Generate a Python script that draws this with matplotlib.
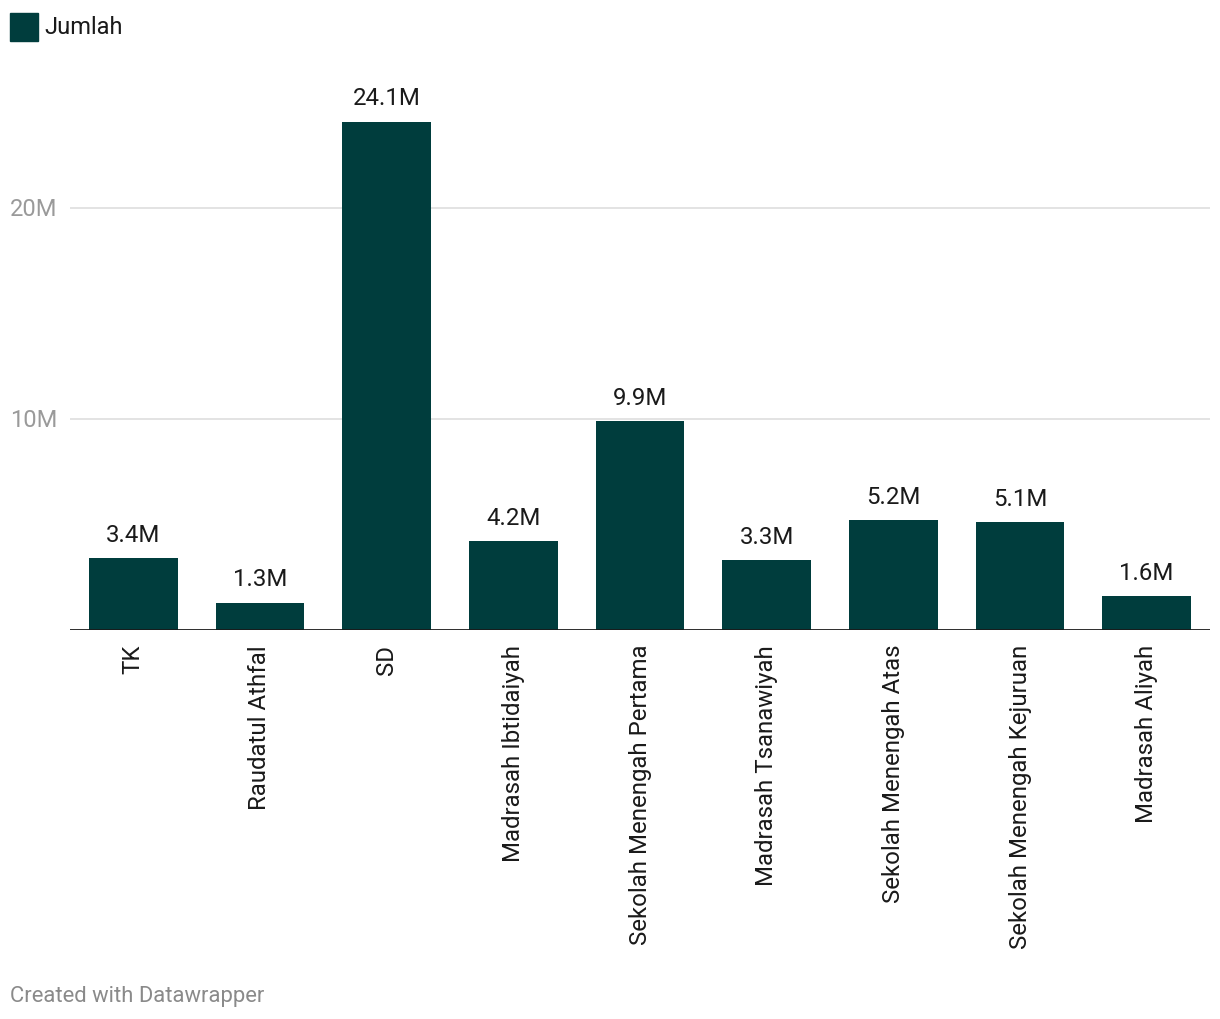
import matplotlib
matplotlib.use("Agg")
from matplotlib import pyplot as plt
from matplotlib.patches import Rectangle

plt.rcParams['font.family'] = ['Roboto', 'DejaVu Sans']

kategori = ["TK", "Raudatul Athfal", "SD", "Madrasah Ibtidaiyah",
            "Sekolah Menengah Pertama", "Madrasah Tsanawiyah",
            "Sekolah Menengah Atas", "Sekolah Menengah Kejuruan", "Madrasah Aliyah"]
jumlah = [3.4, 1.3, 24.1, 4.2, 9.9, 3.3, 5.2, 5.1, 1.6]  # juta
label_nilai = ["3.4M", "1.3M", "24.1M", "4.2M", "9.9M", "3.3M", "5.2M", "5.1M", "1.6M"]
yticks = [10, 20]
ytick_labels = ["10M", "20M"]

warna = "#003d3d"

fig = plt.figure(figsize=(12.2, 10.2), dpi=100)
ax = fig.add_axes([70 / 1220, 1 - 631 / 1020, 1140 / 1220, (631 - 61) / 1020])

x = list(range(len(kategori)))
ax.bar(x, jumlah, width=0.70, color=warna, zorder=3)
for xi, v, lab in zip(x, jumlah, label_nilai):
    ax.annotate(lab, (xi, v), xytext=(0, 9), textcoords="offset points",
                ha="center", va="bottom", fontsize=17.3, color="#1a1a1a")

ax.set_xlim(-0.5, len(kategori) - 0.5)
ax.set_ylim(0, 27.03)

# gridlines + labels ala datawrapper
for t, lab in zip(yticks, ytick_labels):
    ax.axhline(t, color="#e0e0e0", lw=1.3, zorder=1)
    ax.annotate(lab, (0, t), xycoords=("figure fraction", "data"),
                xytext=(10 / 100 * 72, 0), textcoords="offset points",
                ha="left", va="center", fontsize=17, color="#9a9a9a")
ax.axhline(0, color="#1a1a1a", lw=2, zorder=4)

ax.set_xticks(x)
ax.set_xticklabels(kategori, rotation=90, fontsize=17.3, color="#1a1a1a", va="top")
ax.tick_params(axis="x", length=0, pad=10)
ax.set_yticks([])
for s in ax.spines.values():
    s.set_visible(False)

# legend
fig.patches.append(Rectangle((10 / 1220, 1 - 42 / 1020), 28 / 1220, 28 / 1020,
                             transform=fig.transFigure, color=warna))
fig.text(44 / 1220, 1 - 27 / 1020, "Jumlah", fontsize=17, color="#1a1a1a",
         ha="left", va="center")

fig.text(10 / 1220, 1 - 997 / 1020, "Created with Datawrapper", fontsize=15.8,
         color="#8a8a8a", ha="left", va="center")

plt.savefig("out.png", dpi=100)
